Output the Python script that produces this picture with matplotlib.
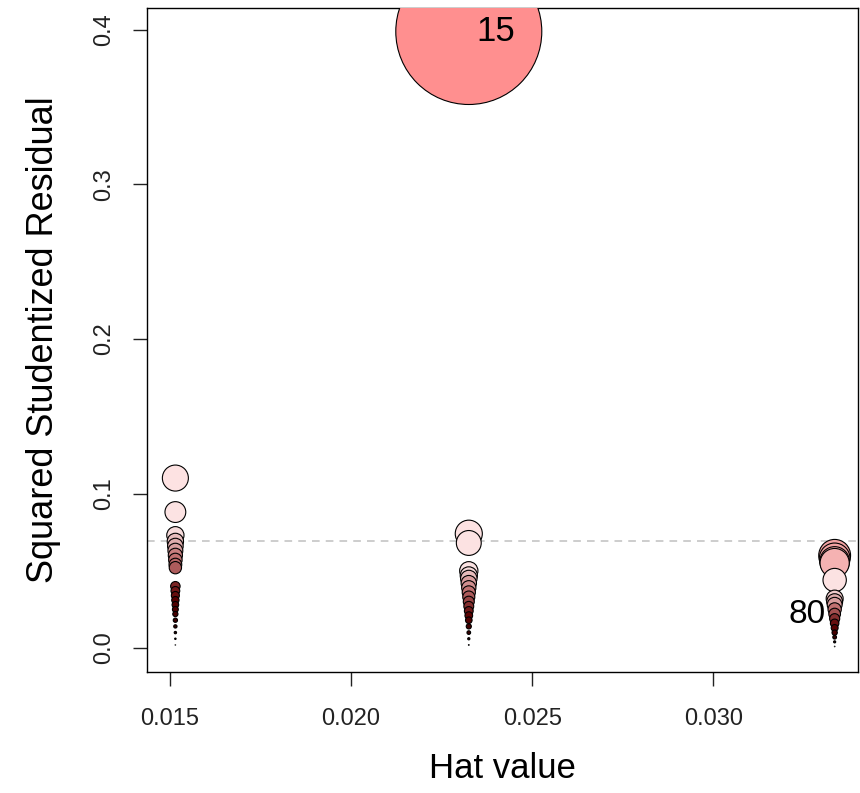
import numpy as np
import matplotlib
matplotlib.use("Agg")
from matplotlib import pyplot as plt
from matplotlib.colors import LinearSegmentedColormap

plt.rcParams['font.family'] = ['Liberation Sans', 'DejaVu Sans']

# hat values and squared studentized residuals, one list per hat group
hat_a = 0.01515
res_a = [0.110, 0.088, 0.073, 0.069, 0.066, 0.063, 0.060, 0.057, 0.054, 0.052,
         0.040, 0.037, 0.034, 0.031, 0.028, 0.025, 0.022, 0.018, 0.014, 0.010,
         0.006, 0.002]
hat_b = 0.02325
res_b = [0.399, 0.074, 0.068, 0.050, 0.047, 0.045, 0.042, 0.039, 0.036, 0.033,
         0.030, 0.027, 0.024, 0.021, 0.018, 0.014, 0.010, 0.006, 0.002]
hat_c = 0.03335
res_c = [0.060, 0.058, 0.056, 0.055, 0.044, 0.032, 0.030, 0.028, 0.025, 0.022,
         0.019, 0.016, 0.013, 0.010, 0.007, 0.004, 0.001]

labels = ["15", "80"]
label_hat = [hat_b, hat_c]
label_res = [0.399, 0.022]
cutoff = 0.0693

hat = np.array([hat_a] * len(res_a) + [hat_b] * len(res_b) + [hat_c] * len(res_c))
res = np.array(res_a + res_b + res_c)

# bubble radius follows Cook's distance
cook = res * hat / (1 - hat)
rel = cook / cook.max()
radius_px = rel * 73
size = (2 * radius_px * 0.72) ** 2

cmap = LinearSegmentedColormap.from_list("cook", [
    (0.0, "#1a0000"), (0.05, "#5a0000"), (0.09, "#c07070"), (0.12, "#fbe3e3"),
    (0.185, "#fde2e2"), (0.205, "#f2a2a2"), (1.0, "#ff8f8f")])

fig = plt.figure(figsize=(8.6, 7.93), dpi=100)
ax = fig.add_axes([0.1709, 0.1526, 0.8268, 0.8373])

order = np.argsort(-size)
ax.scatter(hat[order], res[order], s=size[order], c=cmap(rel[order]),
           edgecolors="black", linewidths=0.8, zorder=3)
ax.axhline(cutoff, color="#c0c0c0", linestyle=(0, (5, 4)), linewidth=1.1, zorder=1)

ax.text(label_hat[0] + 0.0002, label_res[0], labels[0], fontsize=25,
        ha="left", va="center", zorder=5)
ax.text(label_hat[1] - 0.00025, label_res[1], labels[1], fontsize=24,
        ha="right", va="center", zorder=5)

ax.set_xlim(0.014366, 0.033995)
ax.set_ylim(-0.0155, 0.4142)
ax.set_xticks([0.015, 0.020, 0.025, 0.030])
ax.set_xticklabels(["0.015", "0.020", "0.025", "0.030"])
ax.set_yticks([0.0, 0.1, 0.2, 0.3, 0.4])
ax.set_yticklabels(["0.0", "0.1", "0.2", "0.3", "0.4"], rotation=90, va="center")
ax.tick_params(axis="x", length=10, width=1, pad=16, labelsize=17, colors="#222222")
ax.tick_params(axis="y", length=10, width=1, pad=13, labelsize=17, colors="#222222")
for sp in ax.spines.values():
    sp.set_linewidth(1)

ax.set_xlabel("Hat value", fontsize=25, labelpad=16)
ax.set_ylabel("Squared Studentized Residual", fontsize=26, labelpad=23)

fig.savefig("out.png", dpi=100)
